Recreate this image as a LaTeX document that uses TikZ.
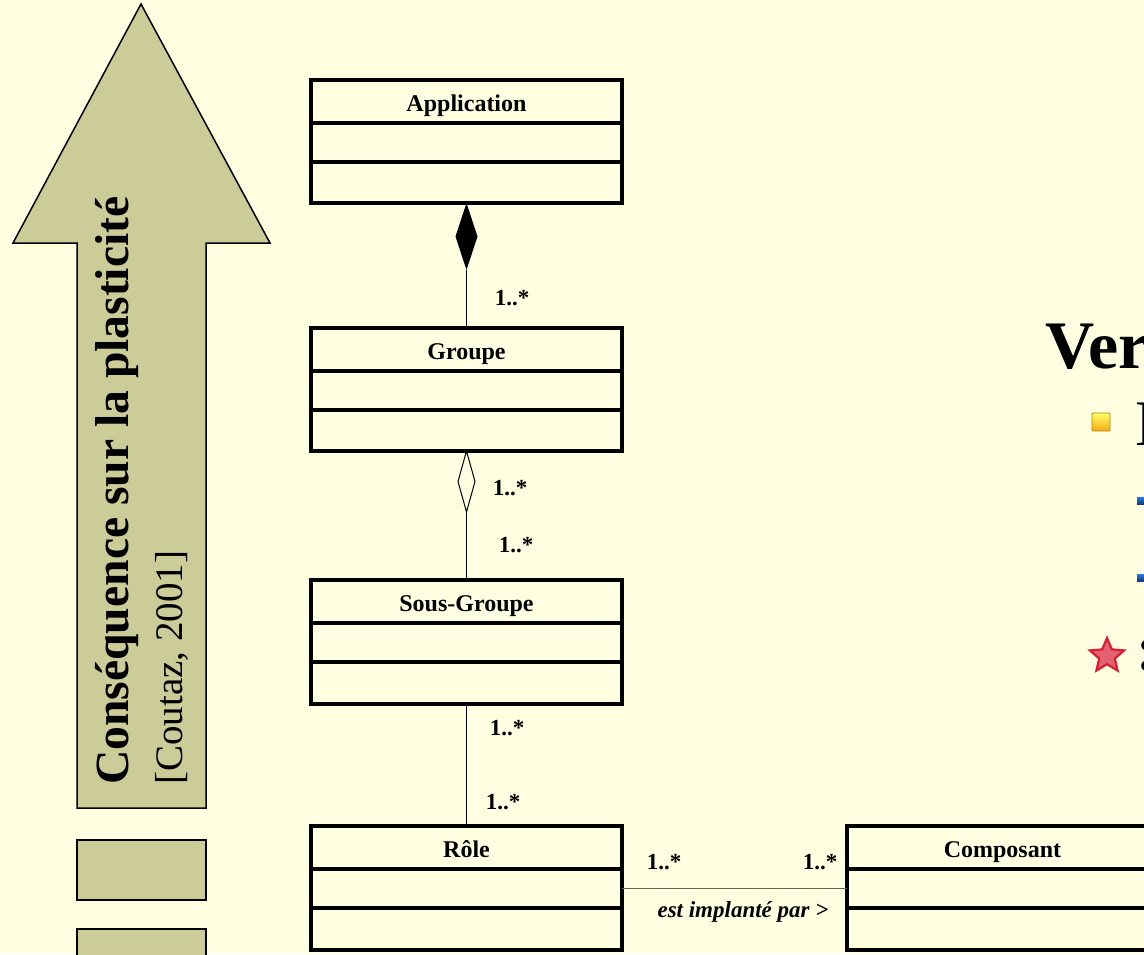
\documentclass[tikz,border=0pt]{standalone}
\usepackage{fontspec}
\setmainfont{Liberation Serif}
\usetikzlibrary{shapes.geometric,calc}

\definecolor{slidebg}{RGB}{255,255,225}
\definecolor{khaki}{RGB}{204,204,153}
\definecolor{assocgrey}{RGB}{100,100,90}
\definecolor{bulletblue}{RGB}{40,120,235}
\definecolor{bulletnavy}{RGB}{25,60,120}
\definecolor{starred}{RGB}{215,30,50}
\definecolor{bulletgold}{RGB}{245,170,20}

\newcommand\fsz[1]{\fontsize{#1}{#1}\selectfont}

\tikzset{
  classbox/.style={draw, line width=4.5pt, fill=slidebg, minimum width=311pt,
    inner sep=0, outer sep=0, anchor=north},
  sepline/.style={line width=4pt},
  classtitle/.style={font=\fsz{24}\bfseries, inner sep=0, anchor=base},
  mult/.style={font=\fsz{23}\bfseries, inner sep=0},
  link/.style={line width=1pt},
  khakiblock/.style={draw, fill=khaki, line width=1.5pt, minimum width=129pt,
    minimum height=60pt, inner sep=0, outer sep=0, anchor=north west},
}

% UML class with three compartments: name, centre x, top y, height, title
\newcommand\umlclass[5]{%
  \node[classbox, minimum height=#4pt] (#1) at (#2,#3) {};
  \draw[sepline] ($(#1.north west)+(0,43)$) -- ($(#1.north east)+(0,43)$);
  \draw[sepline] ($(#1.north west)+(0,82)$) -- ($(#1.north east)+(0,82)$);
  \node[classtitle] (#1-title) at ($(#1.north)+(0,31)$) {#5};
}

\begin{document}
\begin{tikzpicture}[x=1pt,y=-1pt]
  \useasboundingbox (0,0) rectangle (1144,954);
  \fill[slidebg] (0,0) rectangle (1144,954);
  \clip (0,0) rectangle (1144,954);

  % upward arrow and the two blocks below it
  \draw[fill=khaki, line width=1.5pt, line join=miter]
    (141,4) -- (270,243) -- (206,243) -- (206,808) -- (77,808)
    -- (77,243) -- (13,243) -- cycle;
  \node[khakiblock] (blockA) at (77,840) {};
  \node[khakiblock] (blockB) at (77,929) {};
  \node[rotate=90, anchor=base west, inner sep=0, font=\fsz{47.6}\bfseries]
    (arrowtitle) at (128,785) {Conséquence sur la plasticité};
  \node[rotate=90, anchor=base west, inner sep=0, font=\fsz{39}]
    (arrowref) at (182,785) {[Coutaz, 2001]};

  % classes
  \umlclass{app}{466.5}{80}{123}{Application}
  \umlclass{grp}{466.5}{328}{123}{Groupe}
  \umlclass{sub}{466.5}{580}{124}{Sous-Groupe}
  \umlclass{role}{466.5}{826}{124}{Rôle}
  \umlclass{comp}{1002.5}{826}{124}{Composant}

  % composition, aggregation and associations
  \node[diamond, fill=black, minimum width=22pt, minimum height=67pt,
    inner sep=0, outer sep=0, anchor=north] (compo) at (app.south) {};
  \draw[link] (compo.south) -- (grp.north);
  \node[diamond, draw, fill=slidebg, line width=1pt, minimum width=17pt,
    minimum height=61pt, inner sep=0, outer sep=0, anchor=north] (aggr) at (grp.south) {};
  \draw[link] (aggr.south) -- (sub.north);
  \draw[link] (sub.south) -- (role.north);
  \draw[link, assocgrey] (role.east) -- (comp.west);

  % multiplicities
  \node[mult] (m1) at (512,298) {1..*};
  \node[mult] (m2) at (510,488) {1..*};
  \node[mult] (m3) at (516,545) {1..*};
  \node[mult] (m4) at (507,728) {1..*};
  \node[mult] (m5) at (503,802) {1..*};
  \node[mult] (m6) at (664,862) {1..*};
  \node[mult] (m7) at (820,862) {1..*};
  \node[font=\fsz{23}\bfseries\itshape, inner sep=0] (assoclabel) at (743,912)
    {est implanté par >};

  % slide text on the right
  \node[anchor=base west, inner sep=0, font=\fsz{68}\bfseries] (heading) at (1045,368) {Ver};
  \node[minimum width=18pt, minimum height=18pt, inner sep=0, rounded corners=1pt,
    top color=yellow!60!white, bottom color=bulletgold, draw=bulletgold!75!black,
    line width=0.8pt] (bulletA) at (1101,422) {};
  \node[anchor=base west, inner sep=0, font=\fsz{65}] (itemA) at (1135,445) {D};
  \node[minimum width=12pt, minimum height=7pt, inner sep=0, anchor=west,
    top color=bulletblue, bottom color=bulletnavy] (bulletB) at (1137,500.5) {};
  \node[minimum width=12pt, minimum height=7pt, inner sep=0, anchor=west,
    top color=bulletblue, bottom color=bulletnavy] (bulletC) at (1137,577.5) {};
  \node[star, star points=5, star point ratio=2.2, minimum size=36pt, inner sep=0,
    fill=starred!70!white, draw=starred, line width=2.2pt] (mark) at (1107,656) {};
  \node[anchor=base west, inner sep=0, font=\fsz{64}\bfseries] (colon) at (1136,670) {:};
\end{tikzpicture}
\end{document}
